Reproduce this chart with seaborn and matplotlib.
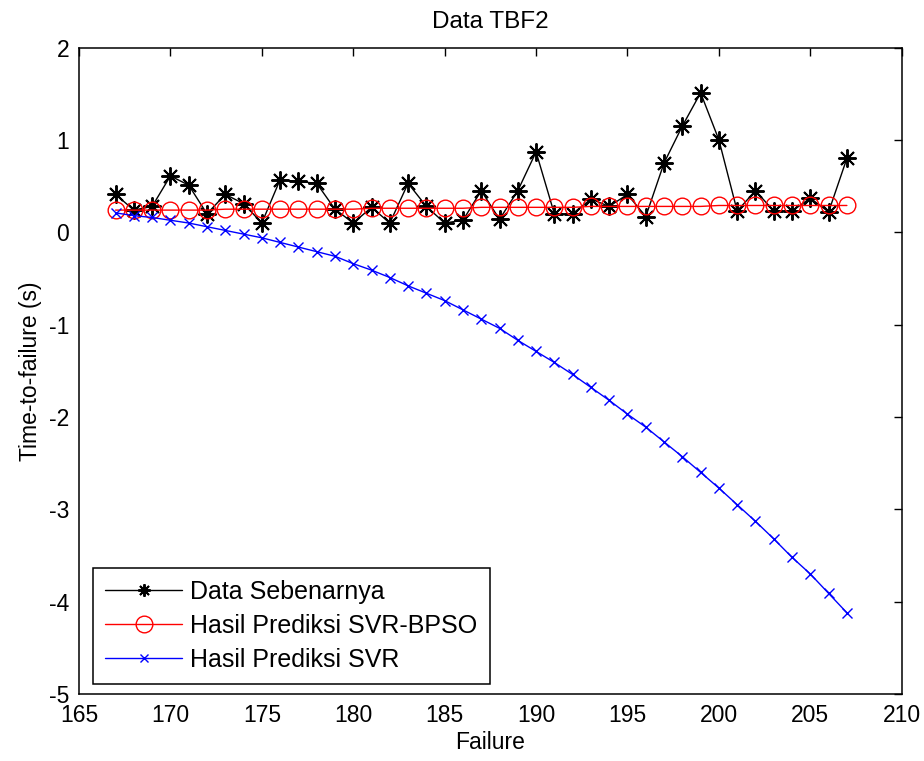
import matplotlib
matplotlib.use("Agg")
import matplotlib.pyplot as plt
import seaborn as sns

# Failure index (x axis)
failure = [167, 168, 169, 170, 171, 172, 173, 174, 175, 176, 177, 178, 179, 180,
           181, 182, 183, 184, 185, 186, 187, 188, 189, 190, 191, 192, 193, 194,
           195, 196, 197, 198, 199, 200, 201, 202, 203, 204, 205, 206, 207]

# Observed time-to-failure
data_sebenarnya = [0.41, 0.24, 0.28, 0.61, 0.51, 0.20, 0.41, 0.31, 0.10, 0.57,
                   0.55, 0.53, 0.25, 0.10, 0.27, 0.10, 0.53, 0.28, 0.10, 0.13,
                   0.45, 0.14, 0.45, 0.87, 0.20, 0.20, 0.36, 0.28, 0.41, 0.17,
                   0.75, 1.15, 1.51, 1.00, 0.23, 0.45, 0.23, 0.23, 0.37, 0.22,
                   0.80]

# SVR-BPSO prediction
prediksi_svr_bpso = [0.24, 0.24, 0.24, 0.24, 0.24, 0.24, 0.25,
                     0.25, 0.25, 0.25, 0.25, 0.25, 0.25, 0.25,
                     0.26, 0.26, 0.26, 0.26, 0.26, 0.26, 0.27,
                     0.27, 0.27, 0.27, 0.27, 0.27, 0.28, 0.28,
                     0.28, 0.28, 0.28, 0.28, 0.28, 0.29, 0.29,
                     0.29, 0.29, 0.29, 0.29, 0.29, 0.29]

# Plain SVR prediction
prediksi_svr = [0.21, 0.18, 0.16, 0.13, 0.10, 0.06, 0.02, -0.02, -0.06, -0.11,
                -0.16, -0.21, -0.26, -0.34, -0.41, -0.49, -0.58, -0.66, -0.74,
                -0.84, -0.94, -1.04, -1.17, -1.29, -1.41, -1.54, -1.68, -1.82,
                -1.97, -2.11, -2.27, -2.43, -2.60, -2.77, -2.95, -3.13, -3.32,
                -3.52, -3.70, -3.91, -4.12]

x_ticks = [165, 170, 175, 180, 185, 190, 195, 200, 205, 210]
y_ticks = [-5, -4, -3, -2, -1, 0, 1, 2]

sns.set_theme(style="white", rc={
    "axes.edgecolor": "black",
    "axes.linewidth": 1.1,
    "axes.labelcolor": "black",
    "text.color": "black",
    "xtick.color": "black",
    "ytick.color": "black",
    "xtick.direction": "in",
    "ytick.direction": "in",
    "axes.unicode_minus": False,
})
plt.rcParams["font.family"] = ["Liberation Sans", "DejaVu Sans"]

fig = plt.figure(figsize=(9.24, 7.61), dpi=100)
ax = fig.add_axes([0.0855, 0.088, 0.8904, 0.8495])

sns.lineplot(x=failure, y=data_sebenarnya, ax=ax, color="black", linewidth=1.0,
             marker=(8, 2, 0), markersize=13, markeredgewidth=1.4,
             markeredgecolor="black", label="Data Sebenarnya")
sns.lineplot(x=failure, y=prediksi_svr_bpso, ax=ax, color="red", linewidth=1.0,
             marker="o", markersize=12, markeredgewidth=1.0,
             markerfacecolor="none", markeredgecolor="red",
             label="Hasil Prediksi SVR-BPSO")
sns.lineplot(x=failure, y=prediksi_svr, ax=ax, color="blue", linewidth=1.0,
             marker="x", markersize=7, markeredgewidth=1.0,
             markeredgecolor="blue", label="Hasil Prediksi SVR")

ax.set_xlim(165, 210)
ax.set_ylim(-5, 2)
ax.set_xticks(x_ticks)
ax.set_yticks(y_ticks)
ax.tick_params(axis="both", which="major", direction="in", top=True, right=True,
               length=6, width=1.0, color="black", labelsize=16.5, pad=7,
               labelcolor="black")

ax.set_title("Data TBF2", fontsize=17.5, color="black", pad=14)
ax.set_xlabel("Failure", fontsize=16.5, color="black", labelpad=3)
ax.set_ylabel("Time-to-failure (s)", fontsize=16.5, color="black", labelpad=5)

leg = ax.legend(loc="lower left", bbox_to_anchor=(0.017, 0.0155),
                borderaxespad=0, frameon=True, fancybox=False,
                edgecolor="black", framealpha=1, fontsize=18,
                handlelength=3.1, handletextpad=0.32, labelspacing=0.4,
                borderpad=0.48)
leg.get_frame().set_linewidth(1.1)
for handle, size in zip(leg.legend_handles, [9, 12, 6]):
    handle.set_markersize(size)
for text in leg.get_texts():
    text.set_color("black")

fig.savefig("out.png", dpi=100, facecolor="white")
